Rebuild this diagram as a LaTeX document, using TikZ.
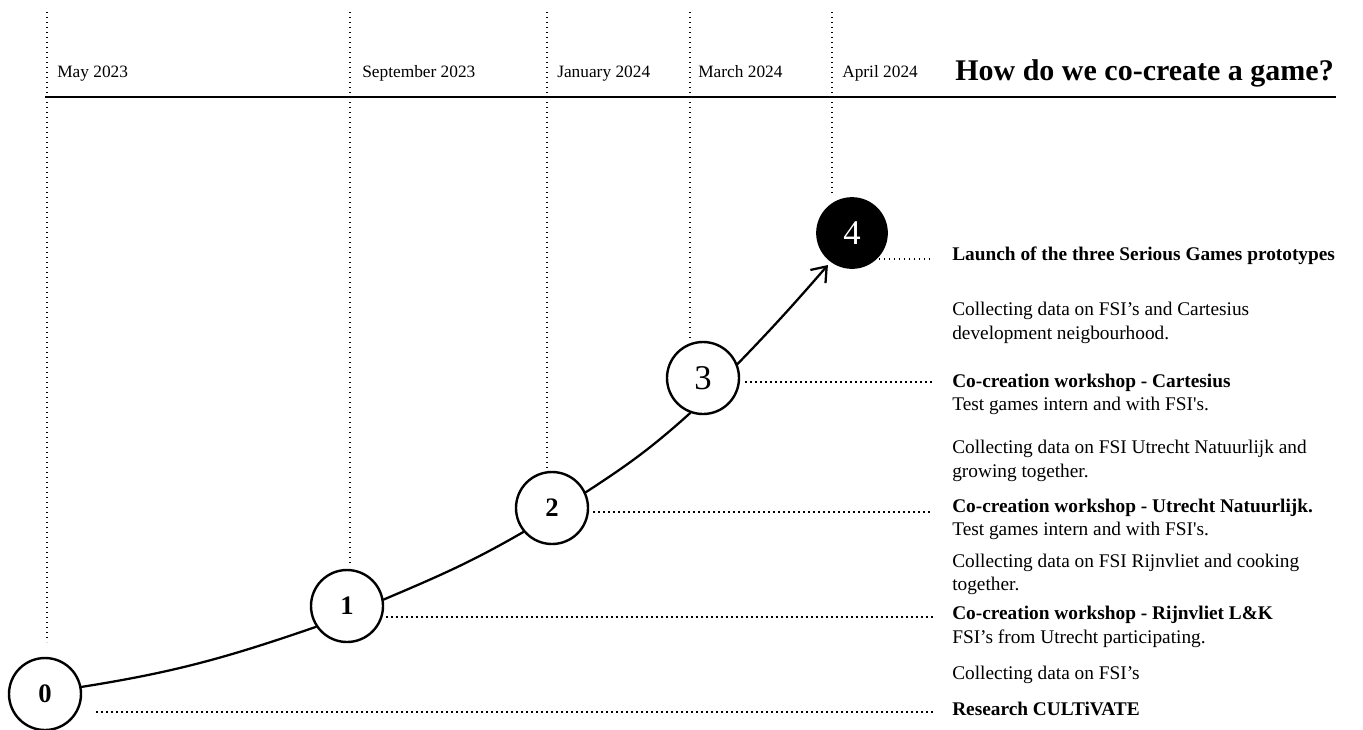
\documentclass[tikz,border=0pt]{standalone}
\usepackage{fontspec}
\setmainfont{Liberation Serif}
\usetikzlibrary{arrows.meta,calc}

\begin{document}
\begin{tikzpicture}[x=0.75pt,y=-0.75pt,
  dotline/.style={line width=1.1pt, dash pattern=on 1.1pt off 2.65pt},
  rule/.style={line width=2.2pt},
  curve/.style={line width=1.7pt, line cap=round},
  stage/.style={circle, draw, line width=1.8pt, fill=white, minimum size=54pt, inner sep=0pt},
  bignum/.style={font=\bfseries\fontsize{20}{20}\selectfont},
  smallnum/.style={font=\fontsize{26}{26}\selectfont},
  datelbl/.style={anchor=base west, inner sep=0pt, font=\fontsize{13}{15}\selectfont},
  body/.style={anchor=base west, inner sep=0pt, font=\fontsize{14.5}{17}\selectfont},
  head/.style={anchor=base west, inner sep=0pt, font=\bfseries\fontsize{14.5}{17}\selectfont},
  title/.style={anchor=base west, inner sep=0pt, font=\bfseries\fontsize{22.5}{26}\selectfont}]
\useasboundingbox (0,0) rectangle (1363,729);

% timeline columns
\coordinate (vt0) at (47,12);  \coordinate (vb0) at (47,642);
\coordinate (vt1) at (350,12); \coordinate (vb1) at (350,566);
\coordinate (vt2) at (547,12); \coordinate (vb2) at (547,470);
\coordinate (vt3) at (690,12); \coordinate (vb3) at (690,338);
\coordinate (vt4) at (832,12); \coordinate (vb4) at (832,196);
\foreach \i in {0,...,4} \draw[dotline] (vt\i) -- (vb\i);

% header rule
\coordinate (ruleL) at (45,97);
\coordinate (ruleR) at (1336,97);
\draw[rule] (ruleL) -- (ruleR);

% dates and title
\node[datelbl] (d0) at (57,77) {May 2023};
\node[datelbl] (d1) at (362,77) {September 2023};
\node[datelbl] (d2) at (557,77) {January 2024};
\node[datelbl] (d3) at (698,77) {March 2024};
\node[datelbl] (d4) at (842,77) {April 2024};
\node[title] (ttl) at (955,80) {How do we co-create a game?};

% milestones
\node[stage, bignum] (c0) at (45,694) {0};
\node[stage, bignum] (c1) at (347,606) {1};
\node[stage, bignum] (c2) at (552,508) {2};
\node[stage, smallnum] (c3) at (703,378) {3};
\node[stage, smallnum, fill=black, text=white, minimum size=52pt] (c4) at (852,233) {4};

% growth curve
\draw[curve] (c0.11) to[out=9,in=199] (c1.214);
\draw[curve] (c1.10) to[out=23,in=210] (c2.220);
\draw[curve] (c2.25) to[out=33,in=222] (c3.250);
\draw[curve,-{Straight Barb[length=10pt,width=15pt]}] (c3.22) to[out=46,in=229] ([shift={(-3,3)}]c4.234);

% descriptions
\node[head] (h4) at (952,260) {Launch of the three Serious Games prototypes};
\node[body] (n4a) at (952,315) {Collecting data on FSI’s and Cartesius};
\node[body] (n4b) at (952,339) {development neigbourhood.};
\node[head] (h3) at (952,387) {Co-creation workshop - Cartesius};
\node[body] (s3) at (952,410) {Test games intern and with FSI\textquotesingle s.};
\node[body] (n3a) at (952,453) {Collecting data on FSI Utrecht Natuurlijk and};
\node[body] (n3b) at (952,477) {growing together.};
\node[head] (h2) at (952,512) {Co-creation workshop - Utrecht Natuurlijk.};
\node[body] (s2) at (952,535) {Test games intern and with FSI\textquotesingle s.};
\node[body] (n2a) at (952,567) {Collecting data on FSI Rijnvliet and cooking};
\node[body] (n2b) at (952,590) {together.};
\node[head] (h1) at (952,619) {Co-creation workshop - Rijnvliet L\&K};
\node[body] (s1) at (952,643) {FSI’s from Utrecht participating.};
\node[body] (n1) at (952,679) {Collecting data on FSI’s};
\node[head] (h0) at (952,715) {Research CULTiVATE};

% leaders from milestones to their headings
\draw[dotline] ($(c0.east |- h0.base west)+(14,-3)$) -- ($(h0.base west)+(-19,-3)$);
\draw[dotline] ($(c1.east |- h1.base west)+(2,-2)$) -- ($(h1.base west)+(-19,-2)$);
\draw[dotline] ($(c2.east |- h2.base west)+(4,0)$) -- ($(h2.base west)+(-19,0)$);
\draw[dotline] ($(c3.east |- h3.base west)+(5,-5)$) -- ($(h3.base west)+(-19,-5)$);
\draw[dotline] ($(c4.east |- h4.base west)+(-9,-1)$) -- ($(h4.base west)+(-19,-1)$);
\end{tikzpicture}
\end{document}
